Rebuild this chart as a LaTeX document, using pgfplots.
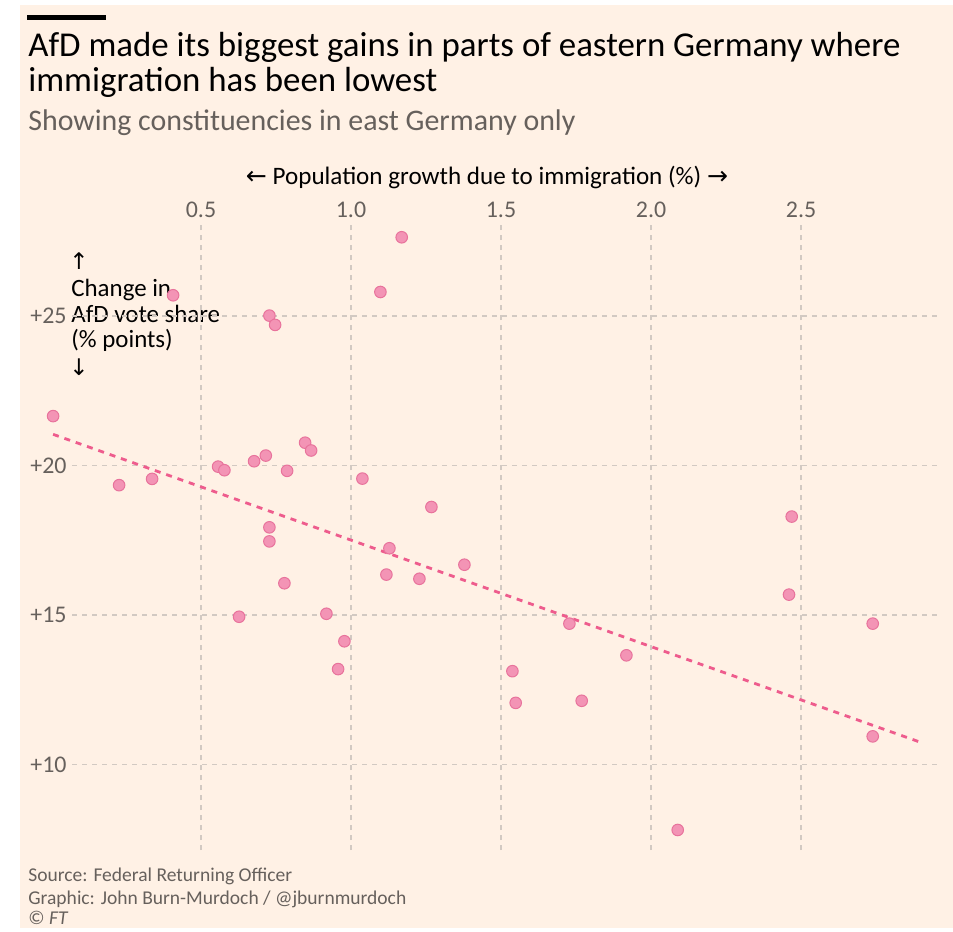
\documentclass[border=0pt]{standalone}
\usepackage{pgfplots}
\pgfplotsset{compat=1.18}
\usepackage{fontspec}
\setmainfont{Carlito}
\newfontfamily\sym{DejaVu Sans}
\definecolor{bg}{HTML}{FFF1E5}
\definecolor{ftgray}{HTML}{66605C}
\definecolor{gridc}{HTML}{D2C9C2}
\definecolor{ptfill}{HTML}{F394B5}
\definecolor{ptedge}{HTML}{E8739C}
\definecolor{trend}{HTML}{EE5C8D}
\pgfplotstableread{
x y
1.169 27.63
1.098 25.80
0.407 25.69
0.728 25.01
0.747 24.70
0.007 21.65
0.847 20.76
0.867 20.50
0.716 20.33
0.677 20.14
0.557 19.96
0.578 19.84
0.787 19.82
1.038 19.56
0.227 19.34
0.337 19.55
1.268 18.61
0.728 17.93
0.728 17.46
1.128 17.23
1.378 16.68
1.118 16.35
1.228 16.21
0.778 16.06
0.627 14.94
0.918 15.04
0.978 14.12
0.957 13.19
2.469 18.29
2.460 15.68
2.739 14.71
1.728 14.71
1.918 13.65
1.538 13.12
1.549 12.06
1.769 12.13
2.739 10.94
2.089 7.81
}\pts
\begin{document}
\begin{tikzpicture}
\useasboundingbox (0,0) rectangle (476.5bp,-466bp);
\begin{scope}[x=0.5bp,y=-0.5bp]
\fill[bg] (20,5) rectangle (953,928);
\fill[black] (27,15) rectangle (106,20);
\node[anchor=base west, inner sep=0, font=\fontsize{17.5}{20}\selectfont] at (28,56) {AfD made its biggest gains in parts of eastern Germany where};
\node[anchor=base west, inner sep=0, font=\fontsize{17.5}{20}\selectfont] at (28,92) {immigration has been lowest};
\node[anchor=base west, inner sep=0, text=ftgray, font=\fontsize{15}{18}\selectfont] at (28,131) {Showing constituencies in east Germany only};
\node[anchor=base, inner sep=0, font=\fontsize{12.6}{15}\selectfont] at (487,185) {{\sym ←} Population growth due to immigration (\%) {\sym →}};
\node[inner sep=0, font=\sym\fontsize{11.5}{13}\selectfont] at (79,261) {↑};
\node[anchor=base west, inner sep=0, font=\fontsize{12.5}{15}\selectfont] at (71,297) {Change in};
\node[anchor=base west, inner sep=0, font=\fontsize{12.5}{15}\selectfont] at (71,323) {AfD vote share};
\node[anchor=base west, inner sep=0, font=\fontsize{12.5}{15}\selectfont] at (71,348) {(\% points)};
\node[inner sep=0, font=\sym\fontsize{11.5}{13}\selectfont] at (79,367) {↓};
\node[anchor=base west, inner sep=0, text=ftgray, font=\fontsize{9.8}{12}\selectfont] at (28,882) {Source: Federal Returning Officer};
\node[anchor=base west, inner sep=0, text=ftgray, font=\fontsize{9.8}{12}\selectfont] at (28,905) {Graphic: John Burn-Murdoch / @jburnmurdoch};
\node[anchor=base west, inner sep=0, text=ftgray, font=\fontsize{9.8}{12}\selectfont] at (28,925) {\textcopyright{} \textit{FT}};
\end{scope}
\begin{axis}[at={(36bp,-425bp)}, anchor=south west, scale only axis,
  width=434bp, height=312.5bp,
  xmin=0.07, xmax=2.9633, ymin=7.14, ymax=28.04,
  xtick={0.5,1,1.5,2,2.5}, xticklabels={0.5,1.0,1.5,2.0,2.5},
  ytick={10,15,20,25}, yticklabels={+10,+15,+20,+25},
  xticklabel pos=upper,
  axis line style={draw=none}, major tick length=0pt,
  grid=major, major grid style={gridc, line width=0.65bp, dash pattern=on 2.5bp off 2.5bp},
  tick label style={text=ftgray, font=\fontsize{12}{14}\selectfont},
  xticklabel style={anchor=base, inner sep=0pt, yshift=4bp},
  yticklabel style={anchor=east, inner sep=0pt, xshift=-2.5bp},
  clip=false]
\addplot[trend, line width=1.4bp, dash pattern=on 3bp off 3bp] coordinates {(0.007,21.04) (2.899,10.74)};
\addplot[only marks, mark=*, mark size=2.9bp, mark options={fill=ptfill, draw=ptedge, line width=0.5bp}] table[x=x,y=y] {\pts};
\end{axis}
\end{tikzpicture}
\end{document}
